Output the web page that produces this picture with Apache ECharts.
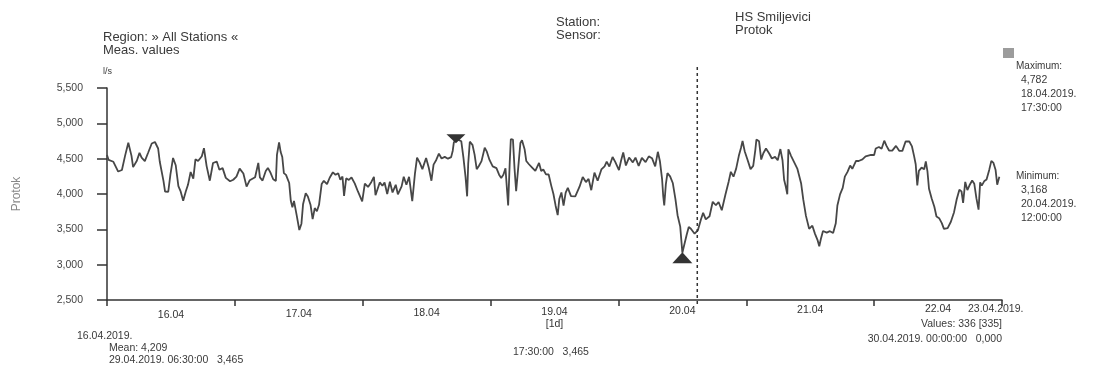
<!DOCTYPE html>
<html>
<head>
<meta charset="utf-8">
<script src="https://cdn.jsdelivr.net/npm/echarts@6/dist/echarts.min.js"></script>
<style>html,body{margin:0;padding:0;background:#fff}#c{width:1096px;height:373px}</style>
</head>
<body>
<div id="c"></div>
<script>
// ---- data (hours since 16.04.2019 00:00, flow in l/s) ----
const dayLabels = ['16.04','17.04','18.04','19.04','20.04','21.04','22.04'];
const yTicks = [2500, 3000, 3500, 4000, 4500, 5000, 5500];
const hours = [
0.0,0.3,1.2,2.1,2.8,3.4,4.0,4.6,4.9,5.6,6.1,6.5,7.1,7.7,8.4,9.0,9.6,9.9,10.6,10.9,11.5,11.9,12.4,12.9,13.4,13.8,14.3,14.8,15.2,15.7,16.2,16.6,17.1,17.8,18.2,18.7,19.3,19.9,20.6,21.1,21.7,22.3,23.1,23.7,
24.3,24.9,25.6,26.2,26.8,27.8,28.4,28.7,29.2,29.8,30.2,30.7,31.2,31.7,31.9,32.3,32.6,32.9,33.2,33.6,33.9,34.2,34.5,34.8,35.1,35.6,36.1,36.5,36.8,37.3,37.7,38.2,38.6,39.0,39.4,39.8,40.3,40.7,41.3,41.8,42.4,42.9,43.4,43.8,44.2,44.5,44.9,45.4,45.9,46.5,47.1,47.9,
48.4,49.0,49.6,50.1,50.4,51.2,51.7,52.1,52.6,53.1,53.6,54.2,54.6,55.3,55.7,56.2,56.7,56.9,57.3,57.8,58.2,58.7,59.2,59.9,60.4,60.9,61.3,61.8,62.3,62.8,63.4,64.0,64.6,64.9,65.1,65.5,65.9,66.5,66.9,67.3,67.6,67.8,68.1,68.6,69.0,69.4,69.8,70.3,70.9,71.3,71.8,
72.4,73.1,73.6,74.0,74.4,74.8,75.1,75.3,75.6,75.8,76.2,76.5,76.8,77.2,77.6,77.9,78.4,78.7,79.2,79.8,80.4,81.1,81.5,81.9,82.4,82.9,83.4,83.8,84.2,84.6,84.9,85.3,85.7,86.1,86.5,87.1,87.9,88.7,89.3,89.9,90.4,90.9,91.5,92.1,92.8,93.4,93.8,94.3,94.9,95.4,
96.1,96.5,96.9,97.4,98.0,98.7,99.2,99.8,100.4,101.1,101.7,102.3,102.9,103.4,103.8,104.2,104.4,104.6,104.9,105.2,105.7,106.2,106.7,107.1,107.6,108.0,108.8,109.2,109.6,110.3,110.9,111.5,111.9,112.4,113.1,113.7,114.3,114.8,115.4,116.1,116.7,117.1,117.6,118.1,118.6,119.0,119.3,119.7,
120.2,120.8,121.3,121.7,121.9,122.4,122.8,123.2,123.7,124.3,124.8,125.4,125.9,126.4,126.8,127.1,127.4,127.7,127.9,128.4,129.0,129.6,130.3,130.7,131.2,131.8,132.4,132.9,133.4,133.7,134.0,134.4,135.1,135.7,136.3,136.8,137.1,137.6,138.1,138.5,139.0,139.5,139.9,140.6,141.1,141.8,142.4,143.4,
144.0,144.3,144.9,145.4,145.9,146.3,146.8,147.4,148.1,148.7,149.3,149.9,150.6,151.1,151.5,151.8,152.1,152.4,152.9,153.4,153.7,154.0,154.3,154.8,155.3,155.7,156.2,156.7,157.1,157.8,158.4,159.0,159.5,160.0,160.4,160.7,161.1,161.5,161.9,162.4,162.8,163.2,163.6,163.9,164.2,164.7,165.1,165.6,166.0,166.4,166.8,167.1,167.5
];
const values = [
4551,4482,4456,4318,4340,4543,4725,4540,4380,4470,4582,4514,4466,4580,4715,4736,4644,4460,4185,4033,4032,4273,4510,4407,4110,4041,3903,4039,4130,4311,4218,4491,4466,4534,4648,4395,4188,4439,4459,4344,4366,4228,4180,4202,
4245,4359,4289,4104,4195,4237,4441,4236,4190,4325,4369,4300,4209,4184,4553,4730,4593,4524,4295,4271,4293,4155,3904,3811,3902,3700,3491,3580,3854,4011,3965,3849,3644,3801,3755,3847,4142,4187,4139,4230,4307,4273,4295,4202,4248,3973,4223,4199,4234,4151,4036,3897,
4147,4100,4167,4243,3982,4164,4117,4162,4000,4174,4022,4130,3996,4108,4244,4130,4243,4128,3899,4286,4514,4443,4352,4510,4371,4188,4416,4482,4572,4503,4525,4500,4522,4613,4726,4782,4770,4747,4517,4243,3967,4425,4740,4696,4558,4351,4397,4465,4655,4599,4482,
4391,4366,4274,4228,4272,4363,4043,3837,4452,4775,4770,4359,4039,4381,4722,4760,4629,4467,4421,4374,4326,4440,4325,4347,4277,4276,4115,4000,3838,3701,3928,4021,3836,4019,4087,3970,3967,4103,4239,4169,4214,4054,4303,4188,4347,4391,4458,4388,4524,4454,
4339,4475,4588,4404,4517,4447,4514,4399,4511,4451,4532,4507,4392,4597,4459,4206,3978,3840,4136,4295,4249,4156,3926,3700,3538,3168,3420,3533,3508,3438,3484,3642,3733,3640,3685,3890,3841,3887,3770,3997,4178,4314,4245,4359,4540,4652,4750,4606,
4491,4352,4397,4625,4770,4745,4487,4576,4643,4573,4503,4525,4478,4636,4477,4202,4110,3995,4633,4541,4448,4355,4148,3919,3690,3507,3551,3436,3343,3260,3364,3477,3454,3474,3449,3586,3837,3995,4086,4245,4313,4402,4356,4469,4467,4489,4533,4554,
4552,4644,4665,4641,4754,4684,4615,4614,4681,4611,4610,4744,4743,4673,4536,4421,4123,4328,4373,4350,4462,4325,4073,3936,3819,3681,3658,3588,3506,3518,3607,3743,3925,4060,4037,3875,4171,4056,4123,4191,4144,3937,3778,4165,4118,4185,4206,4341,4469,4440,4339,4132,4245
];
const maxPoint = [65.5, 4782];
const minPoint = [108.0, 3168];
const cursorHour = 110.8;

// ---- texts ----
const ink = '#3a3a3a';
const fam = '"Liberation Sans", Arial, sans-serif';
function txt(s, x, y, size, align) {
  return { type: 'text', style: { text: s, x: x, y: y, fill: ink, font: size + 'px ' + fam, textAlign: align || 'left' }, z: 10 };
}

// per-label rich styles reproduce the slight upward drift of the scanned axis labels
const rich = {};
dayLabels.forEach((d, i) => { rich['d' + i] = { padding: [12 - 2 * i, 0, 0, 0], color: '#333', fontSize: 10.5, fontFamily: fam, lineHeight: 12, align: 'center' }; });

const chart = echarts.init(document.getElementById('c'));
const baseGraphics = [
  txt('Region: » All Stations «', 103, 31, 13),
  txt('Meas. values', 103, 44, 13),
  txt('l/s', 103, 67, 9),
  txt('Station:', 556, 16, 13),
  txt('Sensor:', 556, 29, 13),
  txt('HS Smiljevici', 735, 11, 13),
  txt('Protok', 735, 24, 13),
  { type: 'rect', shape: { x: 1003, y: 48, width: 11, height: 10 }, style: { fill: '#9c9c9c' } },
  txt('Maximum:', 1016, 61, 10),
  txt('4,782', 1021, 75, 10.5),
  txt('18.04.2019.', 1021, 89, 10.5),
  txt('17:30:00', 1021, 103, 10.5),
  txt('Minimum:', 1016, 171, 10),
  txt('3,168', 1021, 185, 10.5),
  txt('20.04.2019.', 1021, 199, 10.5),
  txt('12:00:00', 1021, 213, 10.5),
  txt('16.04.2019.', 77, 331, 10.5),
  txt('Mean: 4,209', 109, 343, 10.5),
  txt('29.04.2019. 06:30:00   3,465', 109, 355, 10.5),
  txt('17:30:00   3,465', 513, 347, 10.5),
  txt('23.04.2019.', 968, 304, 10.5),
  txt('Values: 336 [335]', 1002, 319, 10.5, 'right'),
  txt('30.04.2019. 00:00:00   0,000', 1002, 334, 10.5, 'right')
];

chart.setOption({
  animation: false,
  backgroundColor: '#fff',
  grid: { left: 107, right: 94, top: 88, bottom: 73 },
  xAxis: [
    {
      type: 'category', data: dayLabels, boundaryGap: true,
      axisLine: { show: true, lineStyle: { color: '#333', width: 1.5 } },
      axisTick: { show: true, length: 6, interval: 0, lineStyle: { color: '#333', width: 1.5 } },
      axisLabel: {
        interval: 0, margin: 3, color: '#333', fontSize: 10.5, fontFamily: fam, lineHeight: 12, rich: rich,
        formatter: (v, i) => '{d' + i + '|' + v + '}' + (v === '19.04' ? '\n{d' + i + '|[1d]}' : '')
      },
      splitLine: { show: false }
    },
    { type: 'value', min: 0, max: 168, show: false }
  ],
  yAxis: {
    type: 'value', min: yTicks[0], max: yTicks[yTicks.length - 1], interval: 500,
    name: 'Protok', nameLocation: 'middle', nameGap: 84, nameRotate: 90,
    nameTextStyle: { color: '#888', fontSize: 12, fontFamily: fam },
    axisLine: { show: true, lineStyle: { color: '#333', width: 1.5 } },
    axisTick: { show: true, length: 10, lineStyle: { color: '#333', width: 1.5 } },
    axisLabel: { margin: 24, color: '#444', fontSize: 10.5, fontFamily: fam, formatter: v => v.toLocaleString('en-US') },
    splitLine: { show: false }
  },
  series: [{
    type: 'line', xAxisIndex: 1, showSymbol: false,
    data: hours.map((h, i) => [h, values[i]]),
    lineStyle: { color: '#474747', width: 1.8 },
    markPoint: {
      symbol: 'triangle', silent: true, label: { show: false },
      itemStyle: { color: '#333' },
      data: [
        { coord: maxPoint, symbolRotate: 180, symbolSize: [19, 9] },
        { coord: minPoint, symbolSize: [20, 11], symbolOffset: [0, 5] }
      ]
    }
  }],
  graphic: baseGraphics
});

// dashed cursor line, positioned through the chart's own scales
const cx = chart.convertToPixel({ xAxisIndex: 1 }, cursorHour);
const yBottom = chart.convertToPixel({ yAxisIndex: 0 }, yTicks[0]);
chart.setOption({
  graphic: baseGraphics.concat([{
    type: 'line', shape: { x1: cx, y1: 67, x2: cx, y2: yBottom + 6 },
    style: { stroke: '#333', lineWidth: 1.5, lineDash: [3, 3] }, z: 5
  }])
});
</script>
</body>
</html>
